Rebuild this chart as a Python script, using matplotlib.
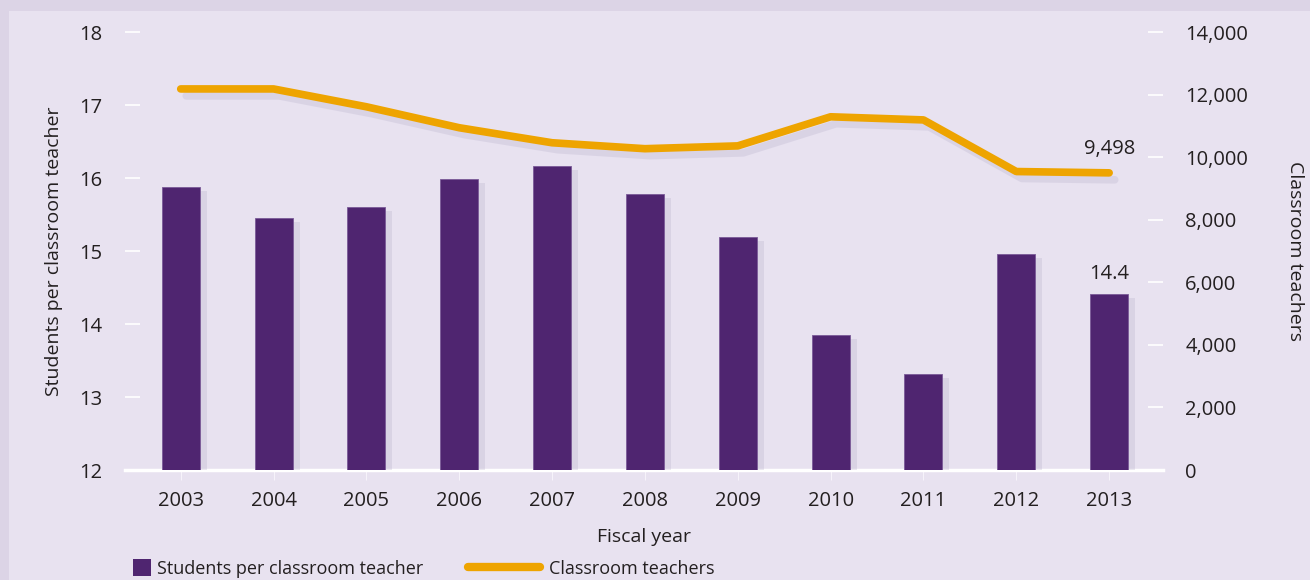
import matplotlib
matplotlib.use("Agg")
import matplotlib.pyplot as plt
import matplotlib.patches as patches
import matplotlib.patheffects as pe
from matplotlib.lines import Line2D

plt.rcParams["font.family"] = ["Open Sans", "DejaVu Sans"]

years = [2003, 2004, 2005, 2006, 2007, 2008, 2009, 2010, 2011, 2012, 2013]
students_per_teacher = [15.88, 15.45, 15.60, 15.99, 16.16, 15.78, 15.19, 13.85, 13.32, 14.96, 14.41]
classroom_teachers = [12180, 12180, 11610, 10940, 10460, 10270, 10360, 11290, 11190, 9540, 9498]

left_ticks = [12, 13, 14, 15, 16, 17, 18]
right_ticks = [0, 2000, 4000, 6000, 8000, 10000, 12000, 14000]

BAR = "#4f2570"
LINE = "#eea400"
PANEL = "#e8e2f0"
BORDER = "#dcd4e6"
TXT = "#231f20"

fig = plt.figure(figsize=(13.1, 5.8), dpi=100, facecolor=BORDER)
fig.patches.append(patches.Rectangle((9 / 1310, 0), 1, 1 - 11 / 580, transform=fig.transFigure,
                                     facecolor=PANEL, edgecolor="none", zorder=0))

ax = fig.add_axes([125 / 1310, 110 / 580, 1038 / 1310, 438 / 580])
ax.set_facecolor("none")
ax.set_zorder(1)

# soft-ish drop shadow behind the bars
shadow = [pe.SimplePatchShadow(offset=(5, -3), shadow_rgbFace="#a89fbd", alpha=0.22), pe.Normal()]
bars = ax.bar(years, [v - 12 for v in students_per_teacher], bottom=12, width=0.41,
              color=BAR, edgecolor="#7a5a98", linewidth=0.6, zorder=3)
for b in bars:
    b.set_path_effects(shadow)

ax.set_xlim(2002.40, 2013.58)
ax.set_ylim(12, 18)
ax.set_yticks(left_ticks)
ax.set_xticks(years)
ax.set_xticklabels([str(y) for y in years])
for s in ["top", "right", "left"]:
    ax.spines[s].set_visible(False)
ax.spines["bottom"].set_color("white")
ax.spines["bottom"].set_linewidth(2.5)
ax.tick_params(axis="y", direction="in", length=11, width=1.2, color="white",
               labelsize=14.5, labelcolor=TXT, pad=16)
ax.tick_params(axis="x", direction="out", length=7, width=0.8, color="#f6f3fa",
               labelsize=14.5, labelcolor=TXT, pad=8)
ax.set_xlabel("Fiscal year", fontsize=14, color=TXT, labelpad=12)
ax.set_ylabel("Students per classroom teacher", fontsize=14, color=TXT, labelpad=12)

ax.annotate(f"{students_per_teacher[-1]:.1f}", (years[-1], students_per_teacher[-1]),
            xytext=(0, 7), textcoords="offset points", ha="center", va="bottom",
            fontsize=14.5, color=TXT)

ax2 = ax.twinx()
ax2.set_zorder(2)
ax2.set_facecolor("none")
ax2.plot(years, classroom_teachers, color=LINE, linewidth=5.5, solid_capstyle="round",
         solid_joinstyle="round", zorder=4,
         path_effects=[pe.SimpleLineShadow(offset=(4, -5), shadow_color="#a89fbd", alpha=0.22),
                       pe.Normal()])
ax2.set_ylim(0, 14000)
ax2.set_yticks(right_ticks)
ax2.set_yticklabels([f"{v:,}" for v in right_ticks])
for s in ["top", "right", "left", "bottom"]:
    ax2.spines[s].set_visible(False)
ax2.tick_params(axis="y", direction="in", length=11, width=1.2, color="white",
                labelsize=14.5, labelcolor=TXT, pad=16)
ax2.set_ylabel("Classroom teachers", fontsize=14, color=TXT, rotation=270, labelpad=40)
ax2.annotate(f"{classroom_teachers[-1]:,}", (years[-1], classroom_teachers[-1]),
             xytext=(0, 10), textcoords="offset points", ha="center", va="bottom",
             fontsize=14.5, color=TXT)

bar_handle = patches.Rectangle((0, 0), 1, 1, facecolor=BAR, edgecolor="none",
                               label="Students per classroom teacher")
line_handle = Line2D([0], [0], color=LINE, linewidth=6, solid_capstyle="round",
                     label="Classroom teachers")
fig.legend(handles=[bar_handle], loc="lower left", bbox_to_anchor=(117 / 1310, -0.024),
           frameon=False, fontsize=13, handlelength=1.0, handleheight=1.1, handletextpad=0.3,
           labelcolor=TXT)
fig.legend(handles=[line_handle], loc="lower left", bbox_to_anchor=(452 / 1310, -0.024),
           frameon=False, fontsize=13, handlelength=4.0, handletextpad=0.5,
           labelcolor=TXT)

fig.savefig("out.png", dpi=100, facecolor=fig.get_facecolor())
